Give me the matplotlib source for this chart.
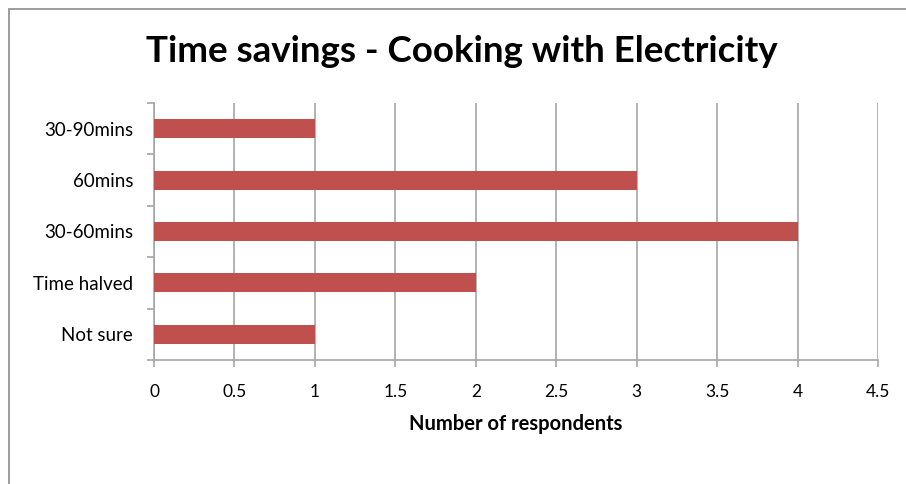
import matplotlib
matplotlib.use("Agg")
import matplotlib.pyplot as plt
import matplotlib.patches as mpatches

categories = ["Not sure", "Time halved", "30-60mins", "60mins", "30-90mins"]
respondents = [1, 2, 4, 3, 1]
x_ticks = [0, 0.5, 1, 1.5, 2, 2.5, 3, 3.5, 4, 4.5]
x_tick_labels = ["0", "0.5", "1", "1.5", "2", "2.5", "3", "3.5", "4", "4.5"]

BAR_COLOR = "#C0504D"
GRID_COLOR = "#A6A6A6"
FONT = ["Lato", "DejaVu Sans"]

plt.rcParams["font.family"] = FONT

W, H = 906, 484
fig = plt.figure(figsize=(W / 100, H / 100), dpi=100)

# chart frame (left and top edges visible)
fig.patches.append(mpatches.Rectangle(
    (9 / W, -0.1), 1.2, (H - 9) / H + 0.1, transform=fig.transFigure,
    fill=False, edgecolor="#8C8C8C", linewidth=1.2))

ax = fig.add_axes([154 / W, (H - 360) / H, (878 - 154) / W, (360 - 103) / H])

y = range(len(categories))
ax.barh(y, respondents, height=0.37, color=BAR_COLOR, zorder=3)

ax.set_xlim(0, 4.5)
ax.set_ylim(-0.5, len(categories) - 0.5)
ax.set_xticks(x_ticks)
ax.set_xticklabels(x_tick_labels, fontsize=12.5)
ax.set_yticks(list(y))
ax.set_yticklabels(categories, fontsize=13.5)
ax.tick_params(axis="y", length=0, pad=15)
ax.set_yticks([i - 0.5 for i in range(len(categories) + 1)], minor=True)
ax.tick_params(axis="y", which="minor", length=5, color=GRID_COLOR, width=1.2)
ax.tick_params(axis="x", length=5, color=GRID_COLOR, width=1.2, pad=12)

ax.grid(axis="x", color=GRID_COLOR, linewidth=1.2, zorder=0)
ax.spines[["top", "right"]].set_visible(False)
for s in ["left", "bottom"]:
    ax.spines[s].set_color(GRID_COLOR)
    ax.spines[s].set_linewidth(1.2)

ax.set_xlabel("Number of respondents", fontsize=14.5, fontweight="bold", labelpad=10)

fig.text(462 / W, 1 - 51 / H, "Time savings - Cooking with Electricity",
         ha="center", va="center", fontsize=26.5, fontweight="bold")

fig.savefig("out.png", dpi=100)
